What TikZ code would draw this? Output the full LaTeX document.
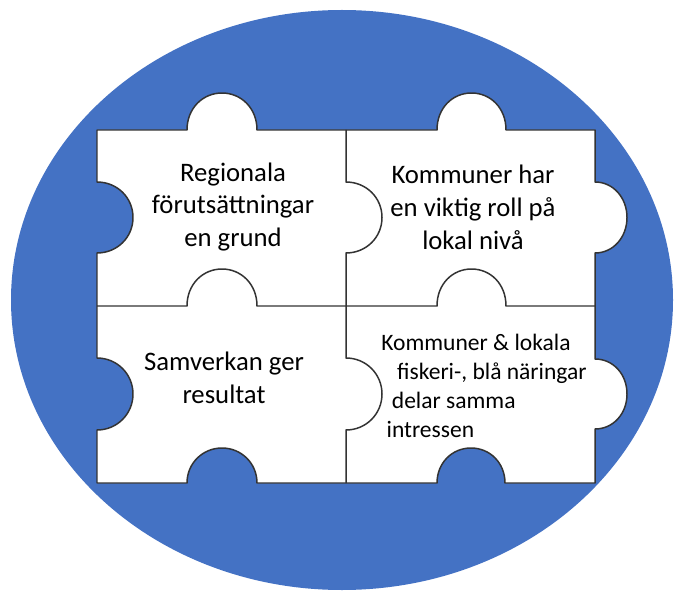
\documentclass[tikz,border=0pt]{standalone}
\usepackage{fontspec}
\setmainfont{Carlito}
\definecolor{ringblue}{HTML}{4472C4}

\begin{document}
\begin{tikzpicture}[x=0.02cm,y=-0.02cm,
        piece/.style={draw=black!80,line width=0.85pt,fill=white,line join=round},
        seam/.style={draw=black!80,line width=0.85pt},
        txt/.style={align=center,inner sep=0pt,
            font=\fontsize{15.2}{18.7}\selectfont},
        smalltxt/.style={align=left,inner sep=0pt,
            font=\fontsize{13.4}{16.4}\selectfont}]
    \useasboundingbox (0,0) rectangle (676,591);
	\fill[ringblue] (342,300) ellipse [x radius=331, y radius=290];

% outer edge of the four pieces
\path[piece] (97,130) -- (187,130)
    .. controls +(0,-22) and +(-19,0) .. ++(35,-37)
    .. controls +(19,0) and +(0,-22) .. ++(35,37)
    -- (437,130)
    .. controls +(0,-22) and +(-19,0) .. ++(34.5,-37)
    .. controls +(19,0) and +(0,-22) .. ++(34.5,37)
    -- (595,130) -- (595,182)
    .. controls +(18,0) and +(0,-20) .. ++(32,35.5)
    .. controls +(0,20) and +(18,0) .. ++(-32,35.5)
    -- (595,359)
    .. controls +(18,0) and +(0,-20) .. ++(32,35)
    .. controls +(0,20) and +(18,0) .. ++(-32,35)
    -- (595,483) -- (505,483)
    .. controls +(0,-20) and +(19,0) .. ++(-34,-35)
    .. controls +(-19,0) and +(0,-20) .. ++(-34,35)
    -- (257,483)
    .. controls +(0,-20) and +(19,0) .. ++(-35,-35)
    .. controls +(-19,0) and +(0,-20) .. ++(-35,35)
    -- (97,483) -- (97,430)
    .. controls +(20,0) and +(0,20) .. ++(36,-36)
    .. controls +(0,-20) and +(20,0) .. ++(-36,-36)
    -- (97,253)
    .. controls +(20,0) and +(0,20) .. ++(36,-35.5)
    .. controls +(0,-20) and +(20,0) .. ++(-36,-35.5)
    -- cycle;

% inner seams
\draw[seam] (346,130) -- (346,182)
    .. controls +(20,0) and +(0,-20) .. ++(36,35.5)
    .. controls +(0,20) and +(20,0) .. ++(-36,35.5)
    -- (346,358)
    .. controls +(20,0) and +(0,-20) .. ++(36,36)
    .. controls +(0,20) and +(20,0) .. ++(-36,36)
    -- (346,483);
\draw[seam] (97,306) -- (187,306)
    .. controls +(0,-22) and +(-19,0) .. ++(35,-37)
    .. controls +(19,0) and +(0,-22) .. ++(35,37)
    -- (437,306)
    .. controls +(0,-22) and +(-19,0) .. ++(34.5,-37)
    .. controls +(19,0) and +(0,-22) .. ++(34.5,37)
    -- (595,306);

\node[txt] (grund) at (233,207) {Regionala\\förutsättningar\\en grund};
\node[txt] (roll) at (473,207) {Kommuner har\\en viktig roll på\\lokal nivå};
\node[txt] (samverkan) at (224,378) {Samverkan ger\\resultat};
\node[smalltxt, anchor=west] (intressen) at (381,386)
    {Kommuner \& lokala\\\hspace*{9pt}fiskeri-, blå näringar\\\hspace*{6pt}delar samma\\\hspace*{3pt}intressen};
\end{tikzpicture}
\end{document}
